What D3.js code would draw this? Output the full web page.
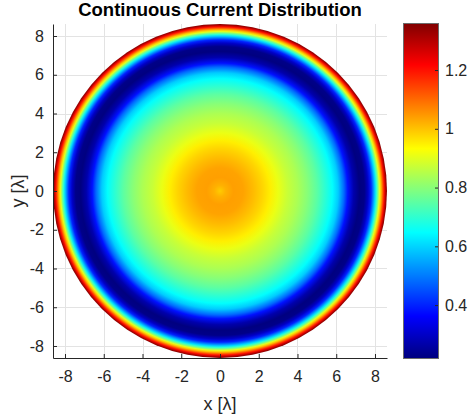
<!DOCTYPE html>
<html>
<head>
<meta charset="utf-8">
<script src="https://cdn.jsdelivr.net/npm/d3@7"></script>
<style>
  html, body { margin: 0; padding: 0; background: #fff; }
  svg { display: block; font-family: "Liberation Sans", Arial, Helvetica, sans-serif; }
</style>
</head>
<body>
<svg id="chart" width="470" height="419"></svg>
<script>
// Radial profile of the current magnitude across the circular aperture (radius in wavelengths)
const radius = [0, 0.3, 0.7, 1.2, 1.7, 2.2, 2.6, 3.0, 3.5, 4.0, 4.5, 5.0, 5.4, 5.8, 6.1, 6.4, 6.6, 6.9, 7.2, 7.45,
                7.64, 7.8, 7.9, 8.0, 8.08, 8.16, 8.23, 8.31, 8.39, 8.47, 8.55, 8.62];
const current = [0.99, 1.02, 1.04, 1.035, 1.01, 0.98, 0.95, 0.91, 0.87, 0.84, 0.80, 0.75, 0.70, 0.65, 0.59, 0.48, 0.38, 0.27, 0.22, 0.23,
                 0.30, 0.40, 0.50, 0.60, 0.70, 0.80, 0.90, 1.00, 1.10, 1.20, 1.30, 1.36];

// Aperture / axis extent
const apertureRadius = 8.62;
const axisTicks = [-8, -6, -4, -2, 0, 2, 4, 6, 8];

// Colour axis
const colorLimits = [0.22, 1.36];
const colorTicks = [0.4, 0.6, 0.8, 1, 1.2];

const titleText = "Continuous Current Distribution";
const xLabel = "x [λ]";
const yLabel = "y [λ]";

// MATLAB-style jet colormap
function jet(t) {
  t = Math.max(0, Math.min(1, t));
  const c = v => Math.round(255 * Math.max(0, Math.min(1, v)));
  const r = 1.5 - Math.abs(4 * t - 3);
  const g = 1.5 - Math.abs(4 * t - 2);
  const b = 1.5 - Math.abs(4 * t - 1);
  return `rgb(${c(r)},${c(g)},${c(b)})`;
}

const svg = d3.select("#chart");
const axisColor = "#262626";
const tickFont = 16;

const plot = { left: 53, top: 24, size: 334 };
const x = d3.scaleLinear().domain([-apertureRadius, apertureRadius]).range([plot.left, plot.left + plot.size]);
const y = d3.scaleLinear().domain([-apertureRadius, apertureRadius]).range([plot.top + plot.size, plot.top]);
const cnorm = d3.scaleLinear().domain(colorLimits).range([0, 1]);

const defs = svg.append("defs");

// Grid
const grid = svg.append("g").attr("stroke", "#e3e3e3").attr("stroke-width", 1);
grid.selectAll("line.gx").data(axisTicks).join("line")
  .attr("x1", d => Math.round(x(d)) + 0.5).attr("x2", d => Math.round(x(d)) + 0.5)
  .attr("y1", y.range()[1]).attr("y2", y.range()[0]);
grid.selectAll("line.gy").data(axisTicks).join("line")
  .attr("y1", d => Math.round(y(d)) + 0.5).attr("y2", d => Math.round(y(d)) + 0.5)
  .attr("x1", x.range()[0]).attr("x2", x.range()[1]);

// Disk with radial current profile
const radial = defs.append("radialGradient").attr("id", "diskFill")
  .attr("cx", "50%").attr("cy", "50%").attr("r", "50%");
radial.selectAll("stop").data(radius.map((r, i) => ({ r, v: current[i] }))).join("stop")
  .attr("offset", d => d.r / apertureRadius)
  .attr("stop-color", d => jet(cnorm(d.v)));

svg.append("circle")
  .attr("cx", x(0)).attr("cy", y(0))
  .attr("r", x(apertureRadius) - x(0))
  .attr("fill", "url(#diskFill)");

// Axes (left and bottom, inward ticks)
const xAxis = d3.axisBottom(x).tickValues(axisTicks).tickSizeInner(-4).tickSizeOuter(0).tickPadding(13);
const yAxis = d3.axisLeft(y).tickValues(axisTicks).tickSizeInner(-4).tickSizeOuter(0).tickPadding(9);

const gx = svg.append("g").attr("transform", `translate(0,${y.range()[0]})`).call(xAxis);
const gy = svg.append("g").attr("transform", `translate(${x.range()[0]},0)`).call(yAxis);
[gx, gy].forEach(g => {
  g.select(".domain").attr("stroke", axisColor).attr("stroke-width", 1);
  g.selectAll(".tick line").attr("stroke", axisColor);
  g.selectAll(".tick text").attr("fill", axisColor).attr("font-size", tickFont)
    .attr("font-family", "'Liberation Sans', Arial, sans-serif")
    .text(d => d < 0 ? "-" + Math.abs(d) : d);
});

// Axis labels
svg.append("text").attr("x", x(0)).attr("y", 410).attr("text-anchor", "middle")
  .attr("font-size", 18).attr("fill", axisColor).text(xLabel);
svg.append("text").attr("transform", `translate(24,${y(0)}) rotate(-90)`).attr("text-anchor", "middle")
  .attr("font-size", 18).attr("fill", axisColor).text(yLabel);

// Title
svg.append("text").attr("x", x(0)).attr("y", 15.5).attr("text-anchor", "middle")
  .attr("font-size", 18.5).attr("font-weight", "bold").attr("fill", "#000").text(titleText);

// Colorbar
const cb = { x: 403, width: 35, top: 23, bottom: 358 };
const cy = d3.scaleLinear().domain(colorLimits).range([cb.bottom, cb.top]);
const lin = defs.append("linearGradient").attr("id", "cbFill")
  .attr("x1", 0).attr("y1", 1).attr("x2", 0).attr("y2", 0);
lin.selectAll("stop").data(d3.range(0, 1.0001, 1 / 64)).join("stop")
  .attr("offset", d => d)
  .attr("stop-color", d => jet(d));

svg.append("rect").attr("x", cb.x).attr("y", cb.top).attr("width", cb.width).attr("height", cb.bottom - cb.top)
  .attr("fill", "url(#cbFill)");
const cAxis = d3.axisRight(cy).tickValues(colorTicks).tickSizeInner(-3).tickSizeOuter(0).tickPadding(7)
  .tickFormat(d => String(d));
const gc = svg.append("g").attr("transform", `translate(${cb.x + cb.width},0)`).call(cAxis);
gc.select(".domain").remove();
gc.selectAll(".tick line").attr("stroke", axisColor);
gc.selectAll(".tick text").attr("fill", axisColor).attr("font-size", tickFont)
  .attr("font-family", "'Liberation Sans', Arial, sans-serif");
svg.append("rect").attr("x", cb.x + 0.5).attr("y", cb.top + 0.5).attr("width", cb.width).attr("height", cb.bottom - cb.top)
  .attr("fill", "none").attr("stroke", "#6b6b6b").attr("stroke-width", 1);
</script>
</body>
</html>
